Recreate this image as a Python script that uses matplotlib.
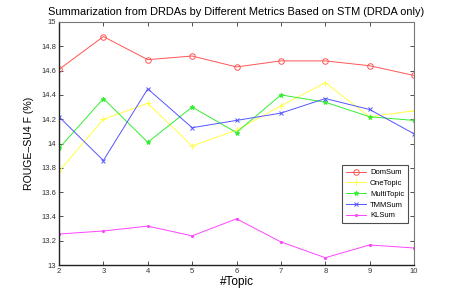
import numpy as np
import matplotlib
matplotlib.use('Agg')
import matplotlib.pyplot as plt

plt.rcParams['font.family'] = ['Liberation Sans', 'DejaVu Sans']

# data
topics = [2, 3, 4, 5, 6, 7, 8, 9, 10]
dom_sum = [14.61, 14.88, 14.69, 14.72, 14.63, 14.68, 14.68, 14.64, 14.56]
one_topic = [13.77, 14.20, 14.33, 13.98, 14.11, 14.31, 14.50, 14.22, 14.27]
multi_topic = [13.96, 14.37, 14.01, 14.30, 14.09, 14.40, 14.34, 14.22, 14.19]
tmm_sum = [14.22, 13.86, 14.45, 14.13, 14.19, 14.25, 14.37, 14.28, 14.08]
kl_sum = [13.255, 13.28, 13.32, 13.24, 13.38, 13.19, 13.06, 13.165, 13.14]
yticks = [13, 13.2, 13.4, 13.6, 13.8, 14, 14.2, 14.4, 14.6, 14.8, 15]
ytick_labels = ['13', '13.2', '13.4', '13.6', '13.8', '14', '14.2', '14.4', '14.6', '14.8', '15']

fig = plt.figure(figsize=(4.57, 2.98), dpi=100)
ax = fig.add_axes([59/457, 1 - 265/298, (414-59)/457, (265-22)/298])

lw = 0.7
ax.plot(topics, dom_sum, color='#ff5555', marker='o', ms=4, mfc='none', mew=0.7, lw=lw, label='DomSum')
ax.plot(topics, one_topic, color='#ffff44', marker='+', ms=4, mew=0.7, lw=lw, label='OneTopic')
ax.plot(topics, multi_topic, color='#33ee33', marker='*', ms=3.5, mew=0.7, lw=lw, label='MultiTopic')
ax.plot(topics, tmm_sum, color='#5555ff', marker='x', ms=3, mew=0.7, lw=lw, label='TMMSum')
ax.plot(topics, kl_sum, color='#ff44ff', marker='.', ms=2.5, lw=lw, label='KLSum')

ax.set_xlim(2, 10)
ax.set_ylim(13, 15)
ax.set_xticks(topics)
ax.set_yticks(yticks)
ax.set_yticklabels(ytick_labels)
ax.tick_params(direction='in', labelsize=5.5, length=3, width=0.6, top=True, right=True, pad=2, colors='#333333')

for side in ['left', 'bottom']:
    ax.spines[side].set_color('#222222')
    ax.spines[side].set_linewidth(1.0)
for side in ['top', 'right']:
    ax.spines[side].set_color('#777777')
    ax.spines[side].set_linewidth(0.8)

ax.set_title('Summarization from DRDAs by Different Metrics Based on STM (DRDA only)', fontsize=7.9, pad=5)
ax.set_xlabel('#Topic', fontsize=8.5, labelpad=1)
ax.set_ylabel('ROUGE\u2013SU4 F (%)', fontsize=7.6, labelpad=5)

leg = ax.legend(loc='lower right', bbox_to_anchor=(412/457, 1 - 227/298), bbox_transform=fig.transFigure,
                fontsize=5.5, frameon=True, fancybox=False, handlelength=2.6, borderpad=0.5,
                labelspacing=0.45, handletextpad=0.6)
leg.get_frame().set_edgecolor('#222222')
leg.get_frame().set_linewidth(0.8)

fig.savefig('out.png', dpi=100)
